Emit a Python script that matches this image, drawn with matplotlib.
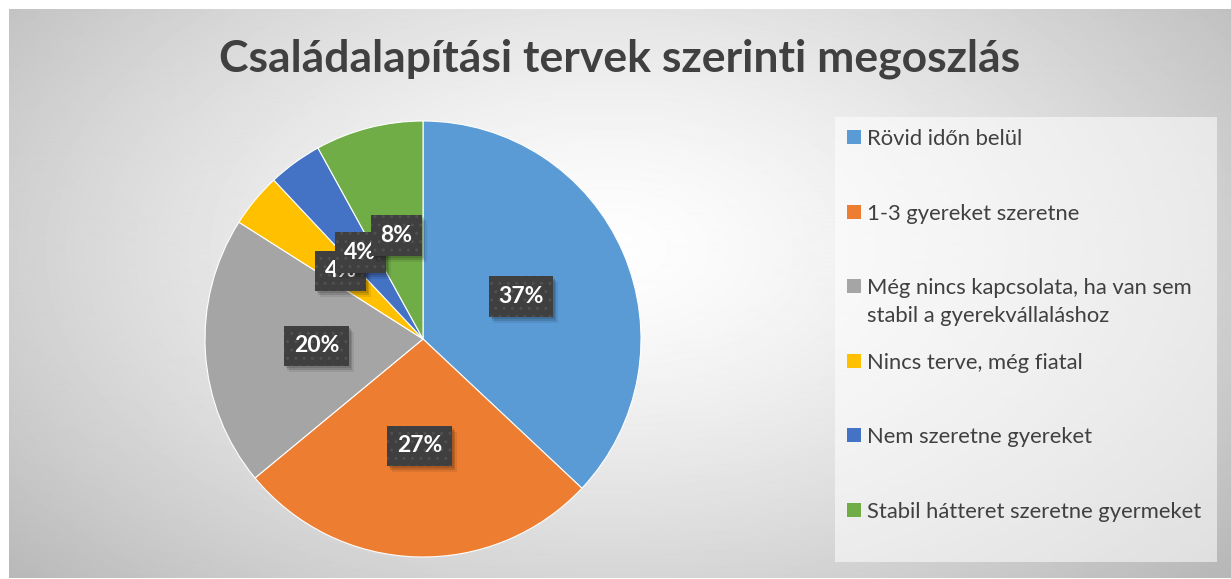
import numpy as np
import matplotlib
matplotlib.use('Agg')
import matplotlib.pyplot as plt
from matplotlib.patches import Rectangle
import matplotlib.transforms as mtransforms

title = "Családalapítási tervek szerinti megoszlás"
categories = [
    "Rövid időn belül",
    "1-3 gyereket szeretne",
    "Még nincs kapcsolata, ha van sem\nstabil a gyerekvállaláshoz",
    "Nincs terve, még fiatal",
    "Nem szeretne gyereket",
    "Stabil hátteret szeretne gyermeket",
]
shares = [37, 27, 20, 4, 4, 8]
colors = ['#5B9BD5', '#ED7D31', '#A5A5A5', '#FFC000', '#4472C4', '#70AD47']

FONT = 'Lato'
W, H = 1231, 579
fig = plt.figure(figsize=(W / 100, H / 100), dpi=100)
fig.patch.set_facecolor('white')

# background gradient
bg = fig.add_axes([9 / W, 1 / H, 1 - 9 / W, (H - 10) / H])
yy, xx = np.mgrid[0:570, 0:1222]
d = np.sqrt(((xx - 600) / 720.0) ** 2 + ((yy - 240) / 430.0) ** 2)
val = 0.995 - 0.23 * np.clip(d, 0, 1.2) ** 1.4
bg.imshow(val, cmap='gray', vmin=0, vmax=1, aspect='auto', interpolation='bilinear')
bg.axis('off')

# pie
r = 218
cxp, cyp = 423, 339
ax = fig.add_axes([(cxp - r) / W, (H - cyp - r) / H, 2 * r / W, 2 * r / H])
wedges, texts, autotexts = ax.pie(
    shares, colors=colors, startangle=90, counterclock=False,
    autopct='%1.0f%%', pctdistance=0.49,
    wedgeprops=dict(edgecolor='white', linewidth=0.8),
    textprops=dict(color='white', fontsize=16.5, fontweight='bold', family=FONT))
ax.set_xlim(-1, 1)
ax.set_ylim(-1, 1)
ax.set_aspect('equal')
ax.axis('off')
for i, t in enumerate(autotexts):
    t.set_zorder(10 + 2 * i)
    t.set_bbox(dict(boxstyle='square,pad=0.42', facecolor='#3f3f3f',
                    edgecolor='#505050', linewidth=0, hatch='..'))

# soft drop shadows behind the label boxes
fig.canvas.draw()
for i, t in enumerate(autotexts):
    bb = t.get_bbox_patch().get_window_extent()
    for (dx, dy, a) in [(2, -2, 0.12), (3, -4, 0.12), (5, -6, 0.08)]:
        ax.add_artist(Rectangle((bb.x0 + dx, bb.y0 + dy), bb.width, bb.height,
                                transform=mtransforms.IdentityTransform(),
                                facecolor='black', alpha=a, edgecolor='none',
                                zorder=9 + 2 * i))

# title
fig.text(620 / W, 1 - 59 / H, title, ha='center', va='center', fontsize=32,
         fontweight='bold', color='#404040', family=FONT)

# legend
lx0, ly0, lx1, ly1 = 835, 117, 1217, 562
fig.add_artist(Rectangle((lx0 / W, 1 - ly1 / H), (lx1 - lx0) / W, (ly1 - ly0) / H,
                         transform=fig.transFigure, facecolor='white', alpha=0.55,
                         edgecolor='none'))
step = 74.6
for i, (lab, c) in enumerate(zip(categories, colors)):
    yc = 137 + i * step
    fig.add_artist(Rectangle((847 / W, 1 - (yc + 7) / H), 14 / W, 14 / H,
                             transform=fig.transFigure, facecolor=c, edgecolor='none'))
    fig.text(867 / W, 1 - (yc - 8) / H, lab, ha='left', va='top', fontsize=15.8,
             color='#404040', family=FONT, linespacing=1.5)

fig.savefig('out.png', dpi=100)
